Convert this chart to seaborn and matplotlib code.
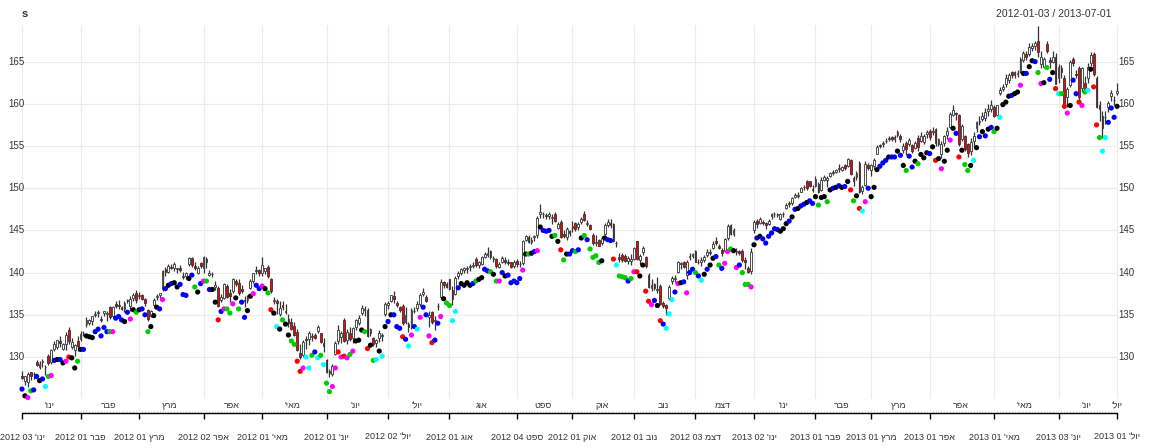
import numpy as np
import pandas as pd
import matplotlib
matplotlib.use("Agg")
import matplotlib.pyplot as plt
import seaborn as sns

# ---------------- data ----------------
open_ = [127.8,127.2,127.0,128.2,128.0,129.4,128.8,129.4,128.8,130.1,129.4,130.9,131.2,131.9,130.9,131.5,133.2,131.2,130.8,131.9,
132.1,132.8,133.9,134.0,134.3,135.0,135.2,134.5,135.2,135.1,135.9,134.8,136.3,136.2,135.9,135.7,136.7,136.1,137.0,137.6,
137.2,137.4,136.9,135.6,134.9,136.2,137.1,137.4,138.0,140.4,140.1,140.7,140.5,140.4,140.5,139.5,139.6,141.0,141.7,140.8,
140.0,141.1,140.6,141.6,139.7,139.8,138.3,138.2,136.8,137.0,138.4,137.6,137.8,139.0,138.8,138.0,136.8,136.7,138.2,139.0,
140.2,140.3,139.9,140.2,140.7,139.3,136.6,136.6,135.1,136.2,135.4,134.5,134.2,133.7,133.0,130.5,130.2,132.1,132.1,132.4,
132.6,133.1,132.8,131.6,129.6,128.3,128.0,130.4,131.9,132.4,134.4,132.0,132.9,132.2,133.6,134.0,135.2,135.7,135.6,132.8,
132.3,131.6,132.2,132.5,135.1,136.2,136.6,137.2,136.4,135.9,136.0,134.2,133.9,133.5,135.5,135.8,136.3,137.5,137.1,134.7,
135.3,134.3,136.1,137.1,138.9,138.6,139.2,137.9,137.5,139.6,140.0,140.3,140.4,140.7,140.8,141.6,140.9,141.0,141.9,142.1,
142.6,141.6,141.6,140.7,141.3,141.5,141.3,141.2,140.8,141.4,141.0,141.1,143.9,144.2,143.6,144.2,144.4,146.9,146.9,146.8,
146.7,146.5,147.0,145.3,146.0,144.6,144.2,144.9,145.3,145.9,145.4,146.0,147.0,145.8,145.6,144.5,143.5,143.9,143.5,144.6,
145.6,145.9,145.7,143.5,141.9,142.1,142.0,141.4,141.4,141.6,143.7,141.5,142.4,141.8,139.7,138.2,138.6,137.9,138.4,136.4,
136.2,137.0,139.0,139.3,140.1,141.0,141.2,139.7,141.8,142.0,142.6,141.3,141.2,141.5,142.1,142.3,142.9,143.8,143.2,142.7,
142.6,144.1,145.6,144.6,142.5,142.6,142.6,141.5,140.6,140.2,145.1,146.1,145.9,146.0,145.9,145.8,146.7,146.9,146.8,146.3,
146.9,147.6,148.1,148.3,149.0,149.1,149.6,150.2,150.8,150.8,149.9,150.3,150.5,149.8,151.0,151.0,151.4,151.8,151.9,152.3,
152.2,152.7,152.6,153.4,151.2,151.3,153.0,149.7,150.4,152.8,152.1,152.6,154.1,155.1,155.2,155.6,155.8,156.1,155.8,156.3,
156.2,154.5,155.4,155.2,155.1,154.8,156.0,155.6,155.5,156.4,156.8,156.6,157.0,155.2,154.0,155.3,156.3,157.2,158.7,158.9,
158.7,155.8,156.2,155.2,154.4,155.6,157.1,157.8,158.2,158.3,159.1,159.4,159.6,158.7,161.3,161.8,162.3,162.8,163.8,163.4,
163.5,163.9,165.2,165.9,165.9,166.6,166.8,167.5,164.7,164.4,167.1,165.2,165.0,165.5,163.0,164.3,163.1,160.8,162.2,165.3,
163.5,164.3,161.9,162.5,163.0,164.8,165.9,163.1,159.8,158.6,158.4,159.6,160.9,160.5,161.3]
high = [128.4,127.8,128.2,128.2,128.2,129.6,129.5,129.8,129.1,130.3,130.9,131.9,132.0,132.5,131.7,133.0,133.5,132.2,131.5,132.5,
133.1,133.1,134.7,134.5,134.9,135.4,135.6,134.8,135.5,135.5,136.0,136.0,136.6,136.8,136.1,136.6,136.9,137.2,137.6,137.9,
137.7,137.5,137.0,135.7,135.6,137.0,137.5,137.6,140.3,140.7,141.0,141.0,141.3,140.6,140.9,140.1,140.1,141.8,141.8,141.2,
140.8,141.3,142.0,141.8,140.3,140.1,139.0,138.4,137.5,138.8,138.6,138.0,139.4,139.3,139.2,138.5,137.2,137.3,139.2,140.0,
140.8,140.4,141.8,140.6,140.9,139.4,137.1,136.9,136.6,136.6,136.3,135.1,134.6,134.1,133.3,131.5,132.0,132.5,133.1,132.9,
132.8,133.8,132.9,132.3,129.8,128.6,129.2,131.9,133.8,133.1,134.6,133.3,133.5,133.6,134.5,135.0,136.2,136.0,135.8,133.4,
132.4,132.1,133.2,132.9,136.5,136.6,137.4,137.8,136.6,136.1,136.3,135.9,134.2,135.8,135.9,136.6,137.6,138.2,137.3,135.5,
135.4,134.8,136.4,139.2,139.0,138.9,139.3,138.4,139.6,140.2,140.6,140.7,140.8,141.0,141.2,141.8,141.4,142.0,142.5,143.0,
142.7,142.0,141.7,141.2,142.0,141.8,141.6,141.3,141.5,141.6,141.4,143.9,144.4,144.4,144.2,144.5,146.7,148.1,147.2,147.1,
147.2,146.9,147.2,146.0,146.2,145.0,145.4,145.1,146.1,146.0,146.0,146.6,147.3,146.2,145.8,144.7,144.4,144.0,144.3,145.9,
146.3,146.4,145.9,143.8,142.3,142.3,142.2,142.0,142.2,143.0,143.8,142.2,143.2,142.0,139.9,139.2,138.8,139.5,138.6,136.6,
136.3,138.5,139.6,139.7,141.4,141.2,141.4,141.5,142.3,142.3,142.7,141.6,141.8,142.1,142.8,142.8,143.8,144.2,143.4,142.9,
144.1,145.7,145.7,145.3,142.9,142.7,142.8,141.9,140.8,142.9,146.2,146.4,146.6,146.2,146.0,146.3,147.1,147.2,147.1,147.1,
147.2,148.3,148.5,149.0,149.4,149.5,150.2,150.4,151.0,150.9,150.4,151.4,150.7,151.3,151.6,151.4,151.9,152.1,152.3,152.9,
152.6,152.9,153.6,153.5,151.5,152.0,153.2,150.4,153.2,153.0,152.9,153.6,155.1,155.2,155.6,155.9,156.2,156.2,156.3,156.9,
156.4,155.4,155.6,156.0,155.2,155.6,156.3,156.6,156.4,156.9,157.0,157.2,157.1,156.0,155.6,156.3,157.2,159.0,159.9,159.0,
158.8,157.6,156.3,155.3,156.0,156.6,158.0,158.6,159.0,159.5,160.0,160.4,159.8,159.9,162.0,162.4,163.5,163.6,163.9,163.9,
164.0,165.5,166.2,166.2,167.2,167.2,167.5,169.2,166.2,165.6,167.5,165.5,166.3,166.0,164.7,164.6,163.4,162.0,165.2,165.5,
164.0,164.5,164.4,163.3,164.8,166.1,166.1,163.3,160.3,159.2,159.2,160.3,161.6,160.9,162.5]
low = [127.4,126.7,126.4,127.3,127.4,128.9,128.6,128.8,127.9,129.1,129.2,130.7,131.0,131.2,130.8,130.8,131.5,130.9,130.1,130.7,
131.9,132.5,133.6,133.8,133.8,134.7,134.7,134.2,134.8,134.3,134.5,134.6,135.8,135.7,135.6,135.3,136.4,135.5,136.6,136.4,
136.9,136.8,136.1,134.3,134.7,136.0,136.8,136.9,137.8,139.6,139.9,140.4,140.2,139.9,140.1,139.3,139.3,140.8,140.7,140.3,
139.8,140.6,140.0,140.5,139.6,139.5,137.9,135.9,136.5,136.9,137.0,136.5,137.6,138.4,137.3,137.6,135.9,136.4,138.0,138.8,
139.8,139.6,139.6,139.8,139.4,137.6,136.3,135.1,134.8,135.6,135.1,133.5,133.2,132.5,130.7,129.8,130.0,131.0,131.4,131.9,
132.1,132.9,131.6,130.6,128.1,127.6,127.8,130.2,131.5,131.7,131.8,131.5,131.9,131.7,133.2,133.8,135.0,134.8,132.4,132.5,
131.3,131.2,131.8,131.9,134.9,135.7,136.5,136.4,135.9,135.3,133.8,133.9,133.0,133.3,135.2,135.4,136.1,137.2,136.5,133.6,
133.9,133.2,135.6,136.9,138.2,138.2,137.9,136.2,137.3,139.3,139.7,139.9,140.0,140.2,140.5,140.7,140.5,140.9,141.7,141.9,
141.6,141.2,140.6,140.5,141.1,141.0,140.9,140.6,140.6,140.7,140.7,140.9,143.7,143.5,143.4,143.7,144.1,146.5,146.5,146.3,
146.4,145.8,146.0,145.2,144.1,144.1,143.9,144.3,144.8,144.9,145.0,145.8,146.1,145.5,145.0,143.3,143.1,143.1,143.3,144.5,
145.4,145.3,143.6,143.0,141.2,141.3,141.2,141.0,140.9,141.5,141.5,141.0,142.1,140.6,138.2,137.8,137.9,137.6,136.2,135.8,
135.0,136.8,138.6,138.9,140.0,140.4,140.5,139.3,141.5,141.7,141.2,141.0,140.8,141.2,141.8,142.1,142.8,143.3,142.8,142.0,
142.4,143.9,144.4,144.3,142.1,142.1,141.3,140.4,140.0,139.8,144.7,145.3,145.7,145.6,145.2,145.6,146.3,146.6,146.6,146.2,
146.6,147.5,147.8,148.0,148.8,148.8,149.5,149.8,149.8,150.2,149.5,150.2,149.4,149.7,150.8,150.2,151.3,151.6,151.8,151.9,
152.0,152.2,152.5,151.6,150.3,151.0,149.4,149.3,150.3,152.2,151.5,152.3,154.0,154.8,154.9,155.3,155.6,155.6,155.5,156.1,
155.5,154.2,153.9,155.0,154.2,154.6,154.4,155.5,155.2,156.0,155.7,156.3,155.0,155.0,153.6,155.0,155.8,157.1,158.5,158.1,
155.0,155.6,154.4,153.7,153.9,155.0,156.7,157.5,158.0,158.0,158.6,159.0,158.4,158.5,161.0,161.5,162.0,162.5,163.0,163.0,
163.2,163.7,165.0,165.2,165.7,166.3,166.4,165.6,164.2,164.2,166.0,164.3,164.8,162.3,162.5,163.1,160.0,159.6,162.0,164.5,
163.0,160.5,161.4,161.3,162.5,164.5,163.3,159.5,158.0,156.0,157.6,159.0,160.3,159.8,161.1]
close = [127.5,127.7,128.0,127.7,128.0,129.1,129.2,129.5,128.8,129.3,130.8,131.5,132.0,131.6,131.5,132.6,131.9,131.8,131.4,131.3,
132.7,132.8,134.4,134.4,134.8,135.1,135.3,134.4,135.4,135.2,134.7,135.9,136.1,136.0,135.7,136.4,136.6,136.9,137.4,136.8,
137.3,136.9,136.4,134.5,135.4,136.7,137.2,137.6,140.2,140.1,140.8,140.6,141.0,140.6,140.3,139.5,139.9,141.7,140.9,140.6,
140.6,140.8,141.8,141.2,140.0,139.8,138.5,136.0,137.1,138.6,137.1,137.2,139.2,138.6,137.6,137.8,136.6,137.0,139.0,139.9,
140.3,139.9,140.9,140.5,139.6,137.8,136.8,136.4,135.8,135.9,135.3,134.0,133.3,132.6,130.8,130.0,131.8,132.0,132.8,132.5,
132.2,133.5,131.8,131.3,128.2,128.1,128.9,131.7,133.2,132.8,131.9,133.0,132.1,133.4,134.4,134.6,135.8,135.6,132.5,133.3,
131.5,132.0,132.9,132.6,136.3,136.4,137.3,136.9,136.2,135.6,134.0,135.0,133.6,135.6,135.4,136.3,137.3,137.7,136.6,135.0,
134.2,134.4,136.0,138.9,138.5,138.3,138.0,136.9,139.4,140.0,140.4,140.5,140.6,140.8,140.9,140.9,141.2,141.8,142.2,142.3,
141.8,141.7,140.8,141.0,141.7,141.2,141.1,140.7,141.3,141.0,141.0,143.8,144.3,143.6,143.9,144.3,146.5,147.2,146.9,146.7,
146.9,146.6,146.1,145.8,144.2,144.3,145.2,144.7,145.5,145.2,145.8,146.4,146.2,145.9,145.2,143.5,143.6,143.2,144.1,145.6,
146.0,145.6,143.8,143.5,141.6,141.5,141.4,141.7,141.6,142.9,141.6,142.0,142.9,140.8,138.3,138.5,138.2,138.0,136.3,136.0,
135.8,138.3,139.4,139.4,141.3,141.1,140.7,141.3,142.0,142.2,141.3,141.2,141.5,141.9,142.4,142.5,143.4,143.5,142.9,142.3,
144.0,145.5,144.6,145.0,142.6,142.3,141.5,141.2,140.1,142.4,146.0,145.8,146.4,145.9,145.6,146.1,146.9,147.0,146.9,146.9,
147.0,148.0,148.3,148.8,149.2,149.2,150.0,150.1,150.0,150.3,149.8,151.1,149.6,151.0,151.3,151.2,151.8,151.9,152.2,152.4,
152.5,152.4,153.5,151.7,150.8,151.8,149.5,150.1,152.9,152.4,152.7,153.4,154.9,155.0,155.4,155.6,156.0,155.8,156.1,156.6,
155.8,155.0,154.6,155.7,154.4,155.4,154.9,156.2,156.2,156.7,156.1,156.8,155.4,155.8,155.2,156.2,156.8,158.8,159.3,158.8,
155.2,157.4,154.7,154.2,155.5,156.2,157.8,158.0,158.5,159.0,159.4,159.9,158.6,159.8,161.6,162.0,163.1,163.4,163.4,163.8,
163.7,165.3,166.0,165.5,166.7,166.8,167.2,166.1,165.5,165.3,166.2,165.0,165.6,162.4,164.4,163.8,160.0,161.7,164.9,164.8,
163.4,160.8,164.2,161.6,164.4,165.8,163.5,159.6,159.4,157.1,158.4,160.1,161.3,160.4,161.5]
dot = [126.2,125.4,125.2,126.0,126.1,127.7,127.2,127.4,126.5,127.7,127.8,129.6,129.7,129.7,129.3,129.5,130.0,129.9,128.7,129.5,
130.9,130.9,132.5,132.4,132.3,133.0,133.3,132.5,133.5,133.0,133.0,133.0,134.6,134.8,134.4,134.2,135.3,134.5,135.6,135.3,
135.6,135.7,135.0,133.0,133.6,134.9,135.9,135.7,136.8,138.1,138.5,138.7,138.8,138.3,138.6,137.4,137.3,139.3,139.7,138.3,
137.7,138.7,139.0,139.0,138.0,138.0,136.5,134.4,135.4,135.7,135.7,135.2,136.3,137.0,135.7,136.5,134.7,135.5,137.2,137.5,
138.5,138.1,138.4,138.1,137.6,135.6,135.2,133.6,133.3,134.4,133.9,132.6,131.9,131.5,129.5,128.3,128.7,130.0,128.7,130.2,
130.6,129.9,130.2,129.1,126.9,125.9,126.5,128.7,130.6,130.0,130.1,129.9,130.3,130.7,131.9,132.0,133.2,133.0,131.0,131.4,
129.6,129.7,130.7,130.1,133.6,134.2,135.0,135.0,133.6,133.4,132.4,132.1,131.3,132.6,133.6,133.3,134.7,135.9,135.0,132.5,
131.7,132.0,134.0,134.8,136.9,136.4,136.1,134.3,135.4,138.2,138.7,138.5,138.8,138.5,138.7,139.0,139.2,139.4,140.4,140.2,
140.1,139.8,139.0,139.0,140.0,139.6,139.7,138.8,139.0,138.8,139.3,140.3,142.2,142.2,142.3,142.5,142.6,145.4,145.0,144.9,
145.0,144.3,144.4,143.7,142.7,141.5,142.2,142.2,142.6,142.5,142.7,144.1,144.4,143.9,142.8,141.8,142.0,141.2,141.4,144.1,
143.9,143.8,141.6,140.9,139.6,139.5,139.4,139.0,139.3,140.1,140.1,139.6,140.9,137.8,136.6,136.2,136.7,136.1,134.3,133.9,
133.4,135.1,136.8,137.7,138.7,138.8,138.9,137.6,140.0,140.4,140.0,139.6,139.1,139.8,140.4,140.9,141.7,141.9,140.9,140.5,
141.1,142.5,142.8,142.6,140.6,140.9,140.0,138.6,138.6,138.3,143.3,144.1,144.3,144.0,143.5,144.3,144.7,145.2,145.1,144.9,
145.2,145.8,146.1,146.6,147.5,147.6,147.9,148.1,148.3,148.5,148.2,149.0,148.0,148.9,149.0,148.4,149.8,150.0,150.1,150.3,
150.1,150.2,150.8,149.8,148.5,149.1,147.6,147.3,148.4,150.0,149.0,150.1,152.2,152.6,153.0,153.3,153.7,153.7,153.7,154.4,
153.9,152.7,152.1,153.8,152.5,153.2,152.9,154.0,153.6,154.2,154.1,154.9,153.3,153.5,152.3,153.2,154.5,155.7,157.1,156.5,
153.7,154.5,152.8,152.1,152.7,153.3,154.8,156.1,156.7,156.2,157.0,157.2,156.7,157.1,158.4,159.9,160.2,160.9,161.0,161.2,
161.4,162.2,163.6,163.6,164.4,165.1,165.0,163.7,162.4,162.5,164.3,162.9,163.7,161.8,161.2,161.2,159.7,158.9,159.8,162.8,
161.2,160.2,159.8,161.4,161.6,164.1,162.0,157.5,156.0,154.4,156.0,157.8,159.5,158.4,159.7]
dot_group = ("bkmgbbkbcg" "mbkbkmrkkg" "kbkkkbbbbb" "gmbbbkbmkg" "kbbgkkkbmb" "kbkkbbbkbg" "kbmgbkkrbm"
             "ggmkgbbkkm" "bbmkgrkckg" "kkggrrmccg" "bcgcggmmrm" "rmgmkkkgrk" "gckckbkbbb" "rbcmbcmbbm"
             "rbbmkggccb" "kkkkbgkkbb" "gkgmbkbbbb" "bmkgkbmkbb" "bkgkrgkbbg" "bkgbggggkk" "bbrcgggbgm"
             "rkkrrmbkrb" "cccbmkbmbb" "gbckbkkbgb" "mmgkmbgggm" "kbkbbbbbbk" "kkbkbkbbkb" "bkgkkgkbkb"
             "kbkrgkrcmb" "kkkbbbkbbk" "bkgbbkgkkk" "bkrkmkkmkb" "rkggkckbkb" "kbgkckkkbk" "kmkbkkbgmk"
             "gbkrcgrmkb" "brmgckrrgc" "cbbbk")

# month starts (bar index of first trading day), labels
tick_bars = [0, 20, 40, 62, 82, 104, 125, 146, 169, 188, 209, 230, 250, 271, 290, 310, 332, 354, 374]
tick_years = ["2012"] * 12 + ["2013"] * 7
tick_days = ["03", "01", "01", "02", "01", "01", "02", "01", "04", "01", "01", "03",
             "02", "01", "01", "01", "01", "03", "01"]
month_names = ["ינו'", "פבר", "מרץ", "אפר", "מאי'", "יונ'", "יול'", "אוג", "ספט", "אוק", "נוב", "דצמ",
               "ינו'", "פבר", "מרץ", "אפר", "מאי'", "יונ'", "יול'"]
y_ticks = [130, 135, 140, 145, 150, 155, 160, 165]
title_left = "s"
title_right = "2012-01-03 / 2013-07-01"

# ---------------- figure ----------------
sns.set_style("white")
plt.rcParams["font.family"] = ["Liberation Sans", "DejaVu Sans"]

W, H = 1149, 448
fig = plt.figure(figsize=(W / 100, H / 100), dpi=100)
ax = fig.add_axes([0, 0, 1, 1])

X0, DX = 22.0, 2.928          # pixel of bar 0, pixels per bar
Y130, DY = 357.0, 8.44        # pixel row of price 130, pixels per unit
n = len(close)
ax.set_xlim(-X0 / DX, (W - X0) / DX)
ax.set_ylim(130 - (H - Y130) / DY, 130 + Y130 / DY)
ax.axis("off")

def py(px):
    return 130 + (Y130 - px) / DY

def bx(px):
    return (px - X0) / DX

grid_col = "#EBEBEB"
txt_col = "#333333"
top, bottom = py(25), py(398)

# grid
for v in y_ticks:
    ax.plot([0, n - 1], [v, v], color=grid_col, lw=0.8, zorder=1)
for b in tick_bars:
    ax.plot([b, b], [bottom, top], color=grid_col, lw=0.8, zorder=1)

# candles
idx = np.arange(n)
o = np.array(open_); h = np.array(high); l = np.array(low); c = np.array(close)
ax.vlines(idx, l, h, colors="#333333", lw=0.9, zorder=2)
body_lo = np.minimum(o, c)
body_h = np.maximum(np.abs(c - o), 0.04)
fill = np.where(c < o, "#FF0000", "#FFFFFF")
ax.bar(idx, body_h, bottom=body_lo, width=0.62, color=fill, edgecolor="#333333",
       linewidth=0.6, zorder=3)

# coloured points
df = pd.DataFrame({"bar": idx, "dot": dot, "grp": list(dot_group)})
pal = {"k": "#000000", "b": "#0000FF", "g": "#00CD00", "m": "#FF00FF", "c": "#00FFFF", "r": "#FF0000"}
sns.scatterplot(data=df, x="bar", y="dot", hue="grp", palette=pal, s=14, linewidth=0,
                legend=False, ax=ax, zorder=4)

# y labels both sides
for v in y_ticks:
    ax.text(bx(24.5), v, str(v), ha="right", va="center", fontsize=7, color=txt_col)
    ax.text(bx(1118), v, str(v), ha="left", va="center", fontsize=7, color=txt_col)

# minor ticks per bar and axis line
ax.vlines(idx, py(413), py(409.5), colors="#DADADA", lw=0.5, zorder=1)
ax.plot([0, n - 1], [py(413), py(413)], color="black", lw=1.0, zorder=2)
ax.vlines(tick_bars, py(419), py(413), colors="black", lw=1.0, zorder=2)

# month band labels and tick labels (Hebrew written in visual order)
ends = tick_bars[1:] + [n]
for i, b in enumerate(tick_bars):
    vis = month_names[i][::-1]
    centre = (b + ends[i] - 1) / 2
    ax.text(centre, py(406), vis, ha="center", va="center", fontsize=6.5, color=txt_col)
    lab = f"{tick_years[i]} {tick_days[i]} {vis}"
    ax.text(b, py(437), lab, ha="center", va="center", fontsize=6.5, color=txt_col)

# titles
ax.text(bx(22), py(14), title_left, ha="left", va="center", fontsize=8, fontweight="bold", color=txt_col)
ax.text(bx(1111), py(14), title_right, ha="right", va="center", fontsize=7.5, color=txt_col)

fig.savefig("out.png", dpi=100)
